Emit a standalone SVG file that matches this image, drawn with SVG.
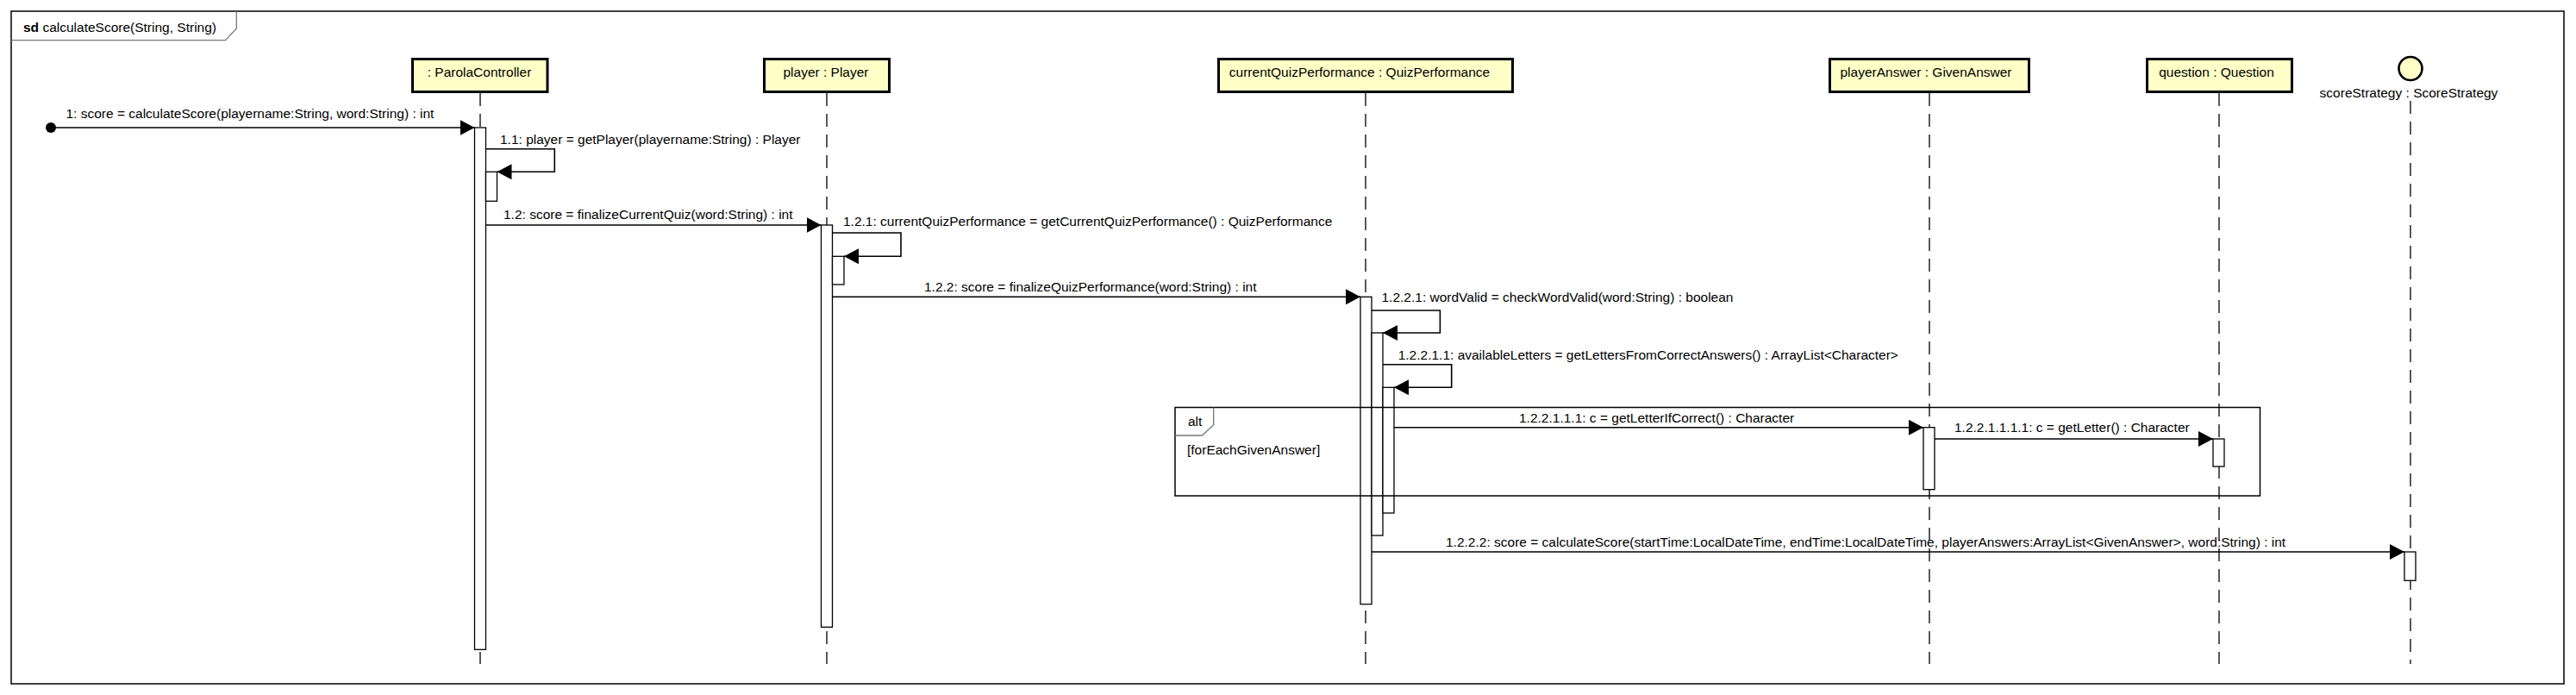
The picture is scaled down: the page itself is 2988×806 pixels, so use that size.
<svg xmlns="http://www.w3.org/2000/svg" width="2988" height="806" viewBox="0 0 2988 806">
<defs>
<style>
text{font-family:"Liberation Sans",Arial,sans-serif;font-size:15.5px;fill:#000}
.box{fill:#ffffc8;stroke:#000;stroke-width:3}
.life{stroke:#000;stroke-width:1.3;stroke-dasharray:15 9;fill:none}
.act{fill:#fff;stroke:#000;stroke-width:1.3}
.msg{stroke:#000;stroke-width:1.6;fill:none}
.frame{fill:none;stroke:#000;stroke-width:1.5}
.tab{fill:none;stroke:#777;stroke-width:1.3}
.mid{text-anchor:middle}
</style>
<marker id="arr" markerUnits="userSpaceOnUse" viewBox="0 0 17 18" refX="17" refY="9" markerWidth="17" markerHeight="18" orient="auto">
<path d="M0,0 L17,9 L0,18 z" fill="#000"/>
</marker>
</defs>
<rect x="0" y="0" width="2988" height="806" fill="#fff"/>
<g id="frame">
<rect class="frame" x="13" y="13" width="2961" height="780"/>
<path class="tab" d="M13,46.7 H261.5 L274.3,33.3 V13"/>
<text x="27" y="37"><tspan font-weight="bold">sd</tspan> calculateScore(String, String)</text>
</g>
<g id="parolaController">
<line class="life" x1="557" y1="108" x2="557" y2="770"/>
<rect class="box" x="478.5" y="68.5" width="156.5" height="38"/>
<text class="mid" x="556" y="89">: ParolaController</text>
<rect class="act" x="550.5" y="148" width="13" height="605.3"/>
<rect class="act" x="563.5" y="199.3" width="13" height="34"/>
</g>
<g id="player">
<line class="life" x1="959" y1="108" x2="959" y2="770"/>
<rect class="box" x="886.5" y="68.5" width="145" height="38"/>
<text class="mid" x="958" y="89">player : Player</text>
<rect class="act" x="952.5" y="261" width="13" height="466.3"/>
<rect class="act" x="965.5" y="297.3" width="13.5" height="32.7"/>
</g>
<g id="currentQuizPerformance">
<line class="life" x1="1584" y1="108" x2="1584" y2="770"/>
<rect class="box" x="1413.5" y="68.5" width="341" height="38"/>
<text class="mid" x="1577" y="89">currentQuizPerformance : QuizPerformance</text>
<rect class="act" x="1578" y="344.3" width="13" height="356.4"/>
<rect class="act" x="1591" y="386" width="13" height="235"/>
<rect class="act" x="1604" y="449.3" width="13" height="145.7"/>
</g>
<g id="playerAnswer">
<line class="life" x1="2238" y1="108" x2="2238" y2="770"/>
<rect class="box" x="2122.5" y="68.5" width="231" height="38"/>
<text class="mid" x="2234" y="89">playerAnswer : GivenAnswer</text>
<rect class="act" x="2231" y="495.7" width="13" height="72"/>
</g>
<g id="question">
<line class="life" x1="2574" y1="108" x2="2574" y2="770"/>
<rect class="box" x="2490.5" y="68.5" width="168" height="38"/>
<text class="mid" x="2571" y="89">question : Question</text>
<rect class="act" x="2567" y="509" width="13" height="32"/>
</g>
<g id="scoreStrategy">
<line class="life" x1="2796" y1="117" x2="2796" y2="770"/>
<circle cx="2796" cy="79.5" r="13.5" fill="#ffffc8" stroke="#000" stroke-width="2.6"/>
<text class="mid" x="2794" y="113">scoreStrategy : ScoreStrategy</text>
<rect class="act" x="2789" y="640" width="13" height="33.3"/>
</g>
<g id="alt">
<rect class="frame" x="1363" y="472.5" width="1258.5" height="102.5" stroke-width="1.3"/>
<path class="tab" d="M1363,505 H1394.3 L1407.7,492.7 V472.5"/>
<text x="1378" y="494.3">alt</text>
<text x="1377" y="526.7">[forEachGivenAnswer]</text>
</g>
<g id="connectors">
<circle cx="59" cy="148" r="6" fill="#000"/>
<line class="msg" x1="59" y1="148" x2="550.5" y2="148" marker-end="url(#arr)"/>
<text x="76.5" y="137">1: score = calculateScore(playername:String, word:String) : int</text>
<path class="msg" d="M563.5,172.7 H643.3 V199.3 H576.5" marker-end="url(#arr)"/>
<text x="580" y="166.7">1.1: player = getPlayer(playername:String) : Player</text>
<line class="msg" x1="563.5" y1="261" x2="952.5" y2="261" marker-end="url(#arr)"/>
<text x="584" y="254">1.2: score = finalizeCurrentQuiz(word:String) : int</text>
<path class="msg" d="M965.5,270 H1045 V297.3 H979" marker-end="url(#arr)"/>
<text x="978" y="262">1.2.1: currentQuizPerformance = getCurrentQuizPerformance() : QuizPerformance</text>
<line class="msg" x1="965.5" y1="344.3" x2="1578" y2="344.3" marker-end="url(#arr)"/>
<text x="1072" y="338">1.2.2: score = finalizeQuizPerformance(word:String) : int</text>
<path class="msg" d="M1591,360 H1670.4 V386 H1604" marker-end="url(#arr)"/>
<text x="1602.5" y="350">1.2.2.1: wordValid = checkWordValid(word:String) : boolean</text>
<path class="msg" d="M1604,422.7 H1683.7 V449.3 H1617" marker-end="url(#arr)"/>
<text x="1621.7" y="416.7">1.2.2.1.1: availableLetters = getLettersFromCorrectAnswers() : ArrayList&lt;Character&gt;</text>
<line class="msg" x1="1617" y1="495.7" x2="2231" y2="495.7" marker-end="url(#arr)"/>
<text x="1762" y="490">1.2.2.1.1.1: c = getLetterIfCorrect() : Character</text>
<line class="msg" x1="2244" y1="509" x2="2567" y2="509" marker-end="url(#arr)"/>
<text x="2267" y="501">1.2.2.1.1.1.1: c = getLetter() : Character</text>
<line class="msg" x1="1591" y1="640" x2="2789" y2="640" marker-end="url(#arr)"/>
<text x="1677" y="634">1.2.2.2: score = calculateScore(startTime:LocalDateTime, endTime:LocalDateTime, playerAnswers:ArrayList&lt;GivenAnswer&gt;, word:String) : int</text>
</g>
</svg>
